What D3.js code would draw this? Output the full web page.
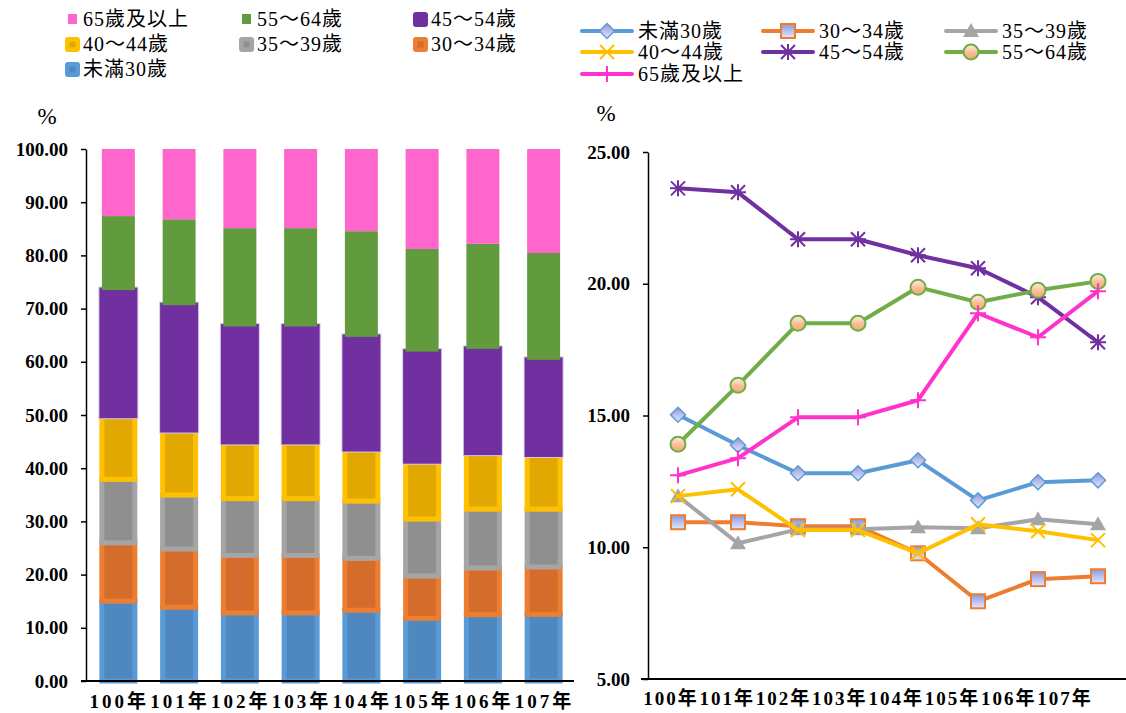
<!DOCTYPE html>
<html><head><meta charset="utf-8">
<script src="https://cdn.jsdelivr.net/npm/d3@7"></script>
<style>body{margin:0;background:#fff}svg{display:block}
text{font-family:"Liberation Serif","Noto Sans CJK TC",serif}</style>
</head><body><svg id="c" width="1126" height="713"></svg>
<script>
// ---------- data ----------
const years = ["100年","101年","102年","103年","104年","105年","106年","107年"];
const seriesNames = ["未滿30歲","30～34歲","35～39歲","40～44歲","45～54歲","55～64歲","65歲及以上"];
const under30 = [15.03,13.87,12.81,12.81,13.30,11.78,12.47,12.54];
const age30_34 = [10.95,10.95,10.80,10.80,9.77,7.95,8.79,8.90];
const age35_39 = [11.94,10.15,10.68,10.68,10.76,10.72,11.06,10.87];
const age40_44 = [11.94,12.20,10.65,10.65,9.77,10.87,10.61,10.27];
const age45_54 = [23.62,23.47,21.69,21.69,21.08,20.59,19.49,17.78];
const age55_64 = [13.91,16.15,18.50,18.50,19.87,19.30,19.75,20.09];
const age65up  = [12.73,13.38,14.93,14.93,15.58,18.88,17.97,19.72];
const barTicks = [0,10,20,30,40,50,60,70,80,90,100];
const lineTicks = [5,10,15,20,25];

const seriesValues = [under30,age30_34,age35_39,age40_44,age45_54,age55_64,age65up];
const lineColors = ["#5B9BD5","#ED7D31","#A5A5A5","#FFC000","#7030A0","#70AD47","#FF33CC"];
const barFill = ["#4F88BE","#D46D2B","#8F8F8F","#E0A800","#7030A0","#629A3E","#FF66CC"];
const barStroke = ["#5B9BD5","#ED7D31","#A5A5A5","#FFC000","#7030A0",null,null];
const markers = ["diamond","square","triangle","x","star","circle","plus"];

const table = years.map((y,i)=>{const o={year:y}; seriesNames.forEach((s,k)=>o[s]=seriesValues[k][i]); return o;});

const svg = d3.select("#c");
const defs = svg.append("defs");
const g1 = defs.append("linearGradient").attr("id","gBlue").attr("x1",0).attr("y1",0).attr("x2",0).attr("y2",1);
g1.append("stop").attr("offset","0%").attr("stop-color","#8F97D9");
g1.append("stop").attr("offset","100%").attr("stop-color","#E2E8FF");
const g2 = defs.append("linearGradient").attr("id","gOrange").attr("x1",0).attr("y1",0).attr("x2",0).attr("y2",1);
g2.append("stop").attr("offset","0%").attr("stop-color","#FDEEE4");
g2.append("stop").attr("offset","55%").attr("stop-color","#F9BE94");
g2.append("stop").attr("offset","100%").attr("stop-color","#F6A66F");

// ---------- left: stacked bars ----------
const xL = d3.scaleBand().domain(years).range([88,574]).paddingInner(0.457).paddingOuter(0.2285);
const yL = d3.scaleLinear().domain([0,100]).range([681,149]);
const stack = d3.stack().keys(seriesNames)(table);

const gBars = svg.append("g");
stack.forEach((layer,k)=>{
  const gl = gBars.append("g");
  if(k===4){
    gl.selectAll("rect.h").data(layer).join("rect")
      .attr("x",d=>xL(d.data.year)).attr("width",xL.bandwidth())
      .attr("y",d=>yL(d[1])).attr("height",d=>yL(d[0])-yL(d[1]))
      .attr("fill","none").attr("stroke","#D9C8EA").attr("stroke-width",7);
  }
  gl.selectAll("rect.b").data(layer).join("rect")
    .attr("x",d=>xL(d.data.year)).attr("width",xL.bandwidth())
    .attr("y",d=>yL(Math.min(d[1],100))).attr("height",d=>yL(d[0])-yL(Math.min(d[1],100)))
    .attr("fill",barFill[k])
    .attr("stroke",barStroke[k]||"none").attr("stroke-width",barStroke[k]?5:0);
});

const axL = svg.append("g").attr("transform","translate(86,0)")
  .call(d3.axisLeft(yL).tickValues(barTicks).tickSize(5).tickSizeOuter(0).tickPadding(13).tickFormat(d3.format(".2f")));
axL.select(".domain").attr("stroke","#000").attr("stroke-width",1.5);
axL.selectAll(".tick line").attr("stroke","#000").attr("stroke-width",1.5);
axL.selectAll(".tick text").attr("font-size",19).attr("font-weight","bold").attr("fill","#000")
  .style("font-family","'Liberation Serif',serif");
svg.append("line").attr("x1",81).attr("x2",574).attr("y1",yL(0)).attr("y2",yL(0)).attr("stroke","#000").attr("stroke-width",2);
svg.append("g").selectAll("text").data(years).join("text")
  .attr("x",d=>xL(d)+xL.bandwidth()/2+1).attr("y",708).attr("text-anchor","middle")
  .attr("font-size",19).attr("font-weight","bold").attr("letter-spacing",3).text(d=>d);
svg.append("text").attr("x",47).attr("y",124).attr("text-anchor","middle").attr("font-size",23).text("%");

// left legend
const legL = seriesNames.slice().reverse();
const legLpos = legL.map((s,i)=>({s, k:seriesNames.indexOf(s), col:i%3, row:Math.floor(i/3)}));
const colX = [83,257,431], rowY=[26,51,76];
const gLL = svg.append("g");
legLpos.forEach(p=>{
  const tx = colX[p.col], ty=rowY[p.row];
  if(!barStroke[p.k]){
    gLL.append("rect").attr("x",tx-15).attr("y",ty-12).attr("width",9).attr("height",10).attr("fill",barFill[p.k]);
  } else {
    gLL.append("rect").attr("x",tx-18).attr("y",ty-14).attr("width",15).attr("height",15).attr("rx",3).attr("fill",barStroke[p.k]);
    gLL.append("rect").attr("x",tx-13.5).attr("y",ty-9.5).attr("width",6).attr("height",6).attr("fill",barFill[p.k]);
  }
  gLL.append("text").attr("x",tx).attr("y",ty).attr("font-size",20).attr("letter-spacing",1).text(p.s);
});

// ---------- right: lines ----------
const xR = d3.scalePoint().domain(years).range([678,1098]);
const xRlab = d3.scalePoint().domain(years).range([671,1065]);
const yR = d3.scaleLinear().domain([5,25]).range([679,152]);

const axR = svg.append("g").attr("transform","translate(648,0)")
  .call(d3.axisLeft(yR).tickValues(lineTicks).tickSize(5).tickSizeOuter(0).tickPadding(13).tickFormat(d3.format(".2f")));
axR.select(".domain").attr("stroke","#000").attr("stroke-width",1.5);
axR.selectAll(".tick line").attr("stroke","#000").attr("stroke-width",1.5);
axR.selectAll(".tick text").attr("font-size",19).attr("font-weight","bold").attr("fill","#000")
  .style("font-family","'Liberation Serif',serif");
svg.append("line").attr("x1",641).attr("x2",1126).attr("y1",yR(5)).attr("y2",yR(5)).attr("stroke","#000").attr("stroke-width",2);
svg.append("g").selectAll("text").data(years).join("text")
  .attr("x",d=>xRlab(d)).attr("y",705).attr("text-anchor","middle")
  .attr("font-size",19).attr("font-weight","bold").attr("letter-spacing",2).text(d=>d);
svg.append("text").attr("x",606).attr("y",121).attr("text-anchor","middle").attr("font-size",23).text("%");

function drawMarker(g,type,color,cx,cy){
  const s=g.append("g").attr("transform",`translate(${cx},${cy})`);
  if(type==="diamond"){
    s.append("path").attr("d","M0,-7.5L7.5,0L0,7.5L-7.5,0Z").attr("fill","url(#gBlue)").attr("stroke",color).attr("stroke-width",1.5);
  } else if(type==="square"){
    s.append("rect").attr("x",-7).attr("y",-7).attr("width",14).attr("height",14).attr("fill","url(#gBlue)").attr("stroke",color).attr("stroke-width",2);
  } else if(type==="triangle"){
    s.append("path").attr("d","M0,-8L8,6L-8,6Z").attr("fill",color);
  } else if(type==="x"){
    s.append("path").attr("d","M-7,-7L7,7M-7,7L7,-7").attr("stroke",color).attr("stroke-width",2).attr("fill","none");
  } else if(type==="star"){
    s.append("path").attr("d","M-7,-7L7,7M-7,7L7,-7M0,-8L0,8M-8,0L8,0").attr("stroke",color).attr("stroke-width",2).attr("fill","none");
  } else if(type==="circle"){
    s.append("circle").attr("r",7.5).attr("fill","url(#gOrange)").attr("stroke",color).attr("stroke-width",2);
  } else if(type==="plus"){
    s.append("path").attr("d","M0,-8L0,8M-8,0L8,0").attr("stroke",color).attr("stroke-width",2).attr("fill","none");
  }
}

const lineGen = d3.line().x((d,i)=>xR(years[i])).y(d=>yR(d));
seriesValues.forEach((vals,k)=>{
  const g = svg.append("g");
  g.append("path").attr("d",lineGen(vals)).attr("fill","none").attr("stroke",lineColors[k])
    .attr("stroke-width",4).attr("stroke-linejoin","round").attr("stroke-linecap","round");
  vals.forEach((v,i)=>drawMarker(g,markers[k],lineColors[k],xR(years[i]),yR(v)));
});

// right legend
const rColText=[638,819,1002], rRowY=[31,52,74];
seriesNames.forEach((s,k)=>{
  const col=k%3,row=Math.floor(k/3);
  const tx=rColText[col], ly=rRowY[row];
  const g=svg.append("g");
  g.append("line").attr("x1",tx-56).attr("x2",tx-6).attr("y1",ly).attr("y2",ly)
    .attr("stroke",lineColors[k]).attr("stroke-width",4).attr("stroke-linecap","round");
  drawMarker(g,markers[k],lineColors[k],tx-31,ly);
  g.append("text").attr("x",tx).attr("y",ly+7).attr("font-size",20).attr("letter-spacing",1).text(s);
});
</script></body></html>
